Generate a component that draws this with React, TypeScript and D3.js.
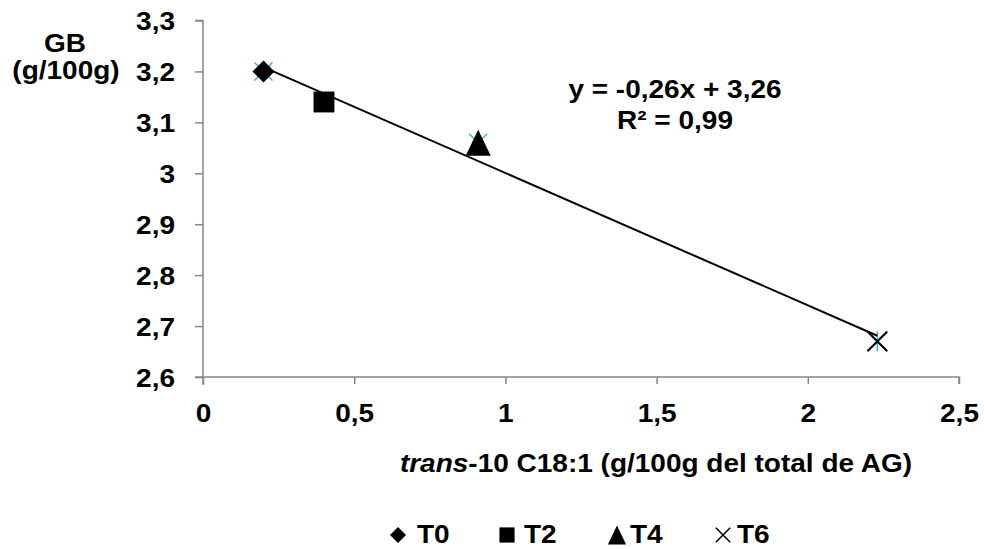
import React, { useEffect, useRef } from "react";
import * as d3 from "d3";

const groups = ["T0", "T2", "T4", "T6"];
const xValues = [0.2, 0.4, 0.91, 2.23];
const yValues = [3.2, 3.14, 3.06, 2.67];
const xTicks = [0, 0.5, 1, 1.5, 2, 2.5];
const yTicks = [2.6, 2.7, 2.8, 2.9, 3, 3.1, 3.2, 3.3];
const shapes = ["diamond", "square", "triangle", "cross"];
const r2 = 0.99;

const W = 984;
const H = 549;
const SX = 1.12; // text in the picture is a bit wide
const FS = 25;
const fmt = (v: number) => String(v).replace(".", ",");

const App = () => {
  const ref = useRef<SVGSVGElement>(null);

  useEffect(() => {
    const svg = d3.select(ref.current);
    svg.selectAll("*").remove();
    const x = d3.scaleLinear().domain([0, 2.5]).range([203, 959]);
    const y = d3.scaleLinear().domain([2.6, 3.3]).range([377, 20.5]);
    const font = "'Liberation Sans', Arial, sans-serif";
    const axisColor = "#868686";

    const label = (px: number, py: number, anchor: string, size: number) =>
      svg.append("g").attr("transform", `translate(${px},${py}) scale(${SX},1)`)
        .append("text").attr("text-anchor", anchor).attr("font-family", font)
        .attr("font-weight", "bold").attr("font-size", size).attr("fill", "#000");

    // axes
    const xAxis = svg.append("g").attr("transform", `translate(0,${y(2.6)})`)
      .call(d3.axisBottom(x).tickValues(xTicks).tickSize(7).tickSizeOuter(0).tickFormat((d) => fmt(+d)));
    xAxis.select(".domain").attr("stroke", axisColor).attr("stroke-width", 1.5)
      .attr("d", `M${x(0) - 8},0H${x(2.5)}V7`);
    xAxis.selectAll(".tick line").attr("stroke", axisColor).attr("stroke-width", 1.5);
    xAxis.selectAll(".tick text").attr("font-family", font).attr("font-size", FS)
      .attr("font-weight", "bold").attr("fill", "#000").attr("dy", null).attr("y", 45)
      .attr("transform", `scale(${SX},1)`);

    const yAxis = svg.append("g").attr("transform", `translate(${x(0)},0)`)
      .call(d3.axisLeft(y).tickValues(yTicks).tickSize(8).tickSizeOuter(0).tickFormat((d) => fmt(+d)));
    yAxis.select(".domain").attr("stroke", axisColor).attr("stroke-width", 1.5)
      .attr("d", `M-8,${y(3.3)}H0V${y(2.6) + 8}`);
    yAxis.selectAll(".tick line").attr("stroke", axisColor).attr("stroke-width", 1.5);
    yAxis.selectAll(".tick text").attr("font-family", font).attr("font-size", FS)
      .attr("font-weight", "bold").attr("fill", "#000").attr("dy", null).attr("y", 9)
      .attr("x", -28 / SX).attr("transform", `scale(${SX},1)`);

    // light blue star markers behind
    const pts = xValues.map((v, i) => ({ x: v, y: yValues[i], s: shapes[i], g: groups[i] }));
    svg.append("g").selectAll("path").data(pts).join("path")
      .attr("transform", (d) => `translate(${x(d.x)},${y(d.y)})`)
      .attr("d", "M-9,-9L9,9M-9,9L9,-9M0,-10V10")
      .attr("stroke", "#4bacc6").attr("stroke-width", 1.5);

    // trend line
    const mx = d3.mean(xValues)!;
    const my = d3.mean(yValues)!;
    const slope = d3.sum(xValues, (v, i) => (v - mx) * (yValues[i] - my)) / d3.sum(xValues, (v) => (v - mx) ** 2);
    const icpt = my - slope * mx;
    const x0 = d3.min(xValues)!;
    const x1 = d3.max(xValues)!;
    svg.append("line")
      .attr("x1", x(x0)).attr("y1", y(slope * x0 + icpt))
      .attr("x2", x(x1)).attr("y2", y(slope * x1 + icpt))
      .attr("stroke", "#000").attr("stroke-width", 2);

    const markPath = (s: string, r: number) => {
      if (s === "diamond") return `M0,${-r}L${r},0L0,${r}L${-r},0Z`;
      if (s === "square") return `M${-r * 0.95},${-r * 0.95}H${r * 0.95}V${r * 0.95}H${-r * 0.95}Z`;
      if (s === "triangle") return `M0,${-r * 1.18}L${r * 1.14},${r * 1.18}H${-r * 1.14}Z`;
      return `M${-r * 0.9},${-r * 0.9}L${r * 0.9},${r * 0.9}M${-r * 0.9},${r * 0.9}L${r * 0.9},${-r * 0.9}`;
    };

    svg.append("g").selectAll("path").data(pts).join("path")
      .attr("transform", (d) => `translate(${x(d.x)},${y(d.y)})`)
      .attr("d", (d) => markPath(d.s, 11))
      .attr("fill", (d) => (d.s === "cross" ? "none" : "#000"))
      .attr("stroke", "#000").attr("stroke-width", (d) => (d.s === "cross" ? 2 : 0));

    // equation
    label(675, 98, "middle", FS).text(`y = ${fmt(+slope.toFixed(2))}x + ${fmt(+icpt.toFixed(2))}`);
    label(675, 129, "middle", FS).text(`R² = ${fmt(r2)}`);

    // y title
    label(65, 52, "middle", FS).text("GB");
    label(66, 79, "middle", FS).text("(g/100g)");

    // x title
    const xt = label(656, 472, "middle", FS);
    xt.append("tspan").attr("font-style", "italic").text("trans");
    xt.append("tspan").text("-10 C18:1 (g/100g del total de AG)");

    // legend
    const legX = [398, 507, 617, 723];
    const legText = [417, 524, 630, 737];
    pts.forEach((d, i) => {
      svg.append("path").attr("transform", `translate(${legX[i]},535)`)
        .attr("d", markPath(d.s, 8))
        .attr("fill", d.s === "cross" ? "none" : "#000")
        .attr("stroke", "#000").attr("stroke-width", d.s === "cross" ? 1.5 : 0);
      label(legText[i], 543, "start", FS).text(d.g);
    });
  }, []);

  return (
    <div style={{ position: "absolute", left: 0, top: 0 }}>
      <svg ref={ref} width={W} height={H} style={{ display: "block", background: "#fff" }} />
    </div>
  );
};

export default App;
